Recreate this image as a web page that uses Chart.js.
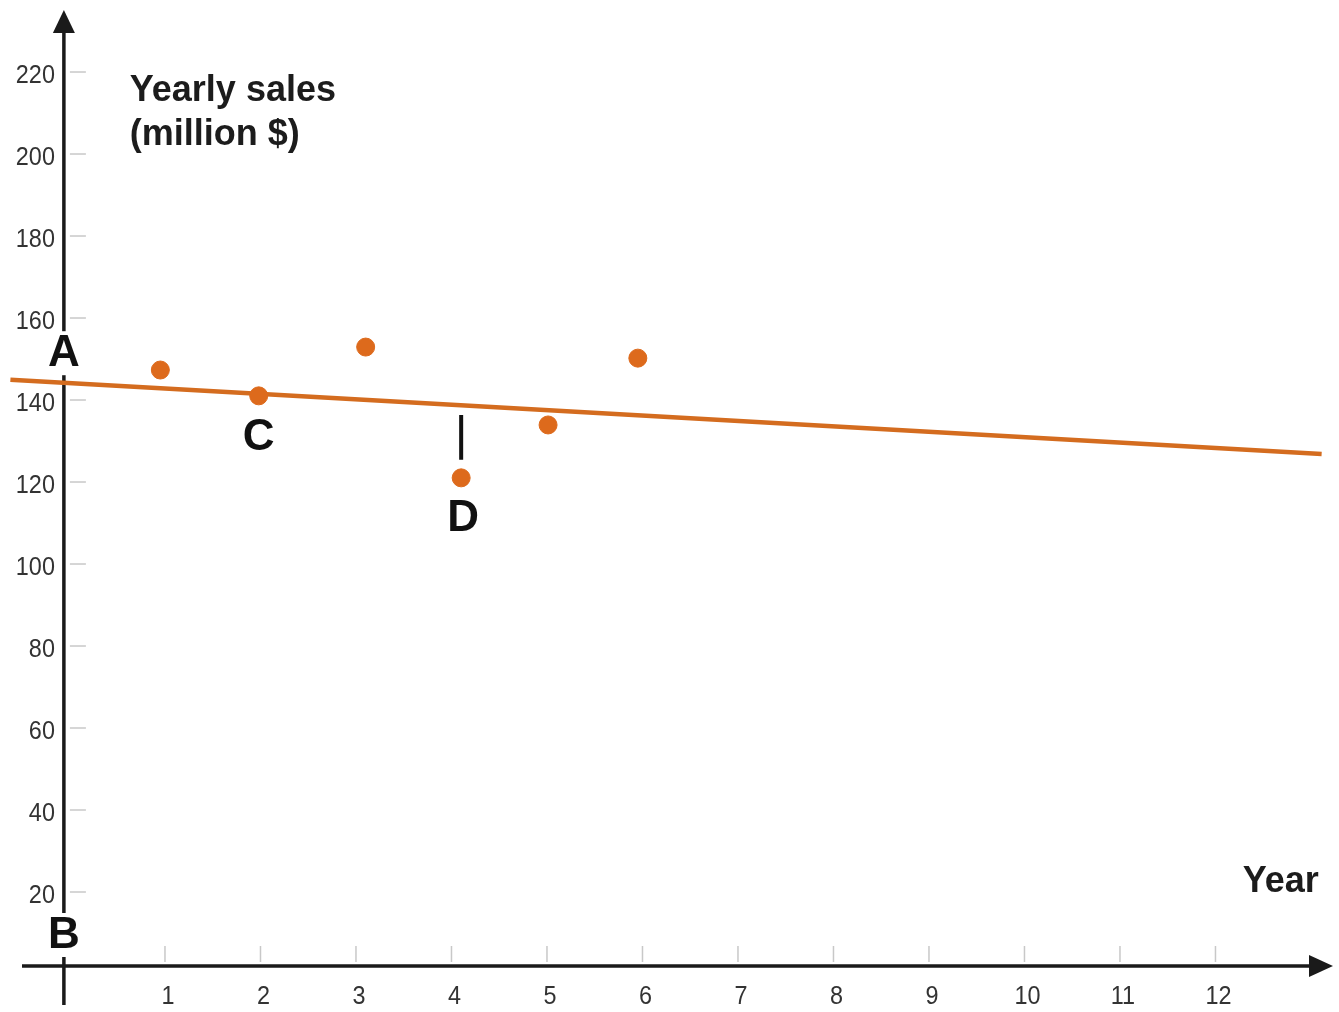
<!DOCTYPE html>
<html lang="en">
  <head>
    <meta charset="UTF-8" />
    <title>Yearly sales</title>
    <script src="https://cdn.jsdelivr.net/npm/chart.js@4.4.1/dist/chart.umd.min.js"></script>
    <style>
      html, body { margin: 0; padding: 0; background: #fff; }
      #wrap { width: 1339px; height: 1012px; position: relative; }
    </style>
  </head>
  <body>
    <div id="wrap"><canvas id="salesChart"></canvas></div>
    <script>
      // data
      var years = [0.92, 1.95, 3.07, 4.07, 4.98, 5.92];
      var sales = [147.8, 141.5, 153.4, 121.5, 134.4, 150.7];
      var trendYears = [-0.65, 13.08];
      var trendSales = [145.4, 127.3];
      var markYears = [4.07, 4.07]; // the short black bar above D
      var markSales = [136.8, 125.9];
      var xTicks = [1, 2, 3, 4, 5, 6, 7, 8, 9, 10, 11, 12];
      var yTicks = [20, 40, 60, 80, 100, 120, 140, 160, 180, 200, 220];

      // letters and titles (data coords)
      var notes = [
        { text: "A", x: -0.09, y: 151.9, clear: true },
        { text: "B", x: -0.09, y: 10.0, clear: true },
        { text: "C", x: 1.95, y: 131.5 },
        { text: "D", x: 4.09, y: 111.7 },
      ];

      var orange = "#dd6a1c";
      var lineOrange = "#d46c1f";
      var axisColor = "#1a1a1a";
      var crossX = -0.09; // where the y axis sits
      var crossY = 2.44; // where the x axis sits

      function pts(xs, ys) {
        return xs.map(function (x, i) { return { x: x, y: ys[i] }; });
      }

      function narrowText(ctx, text, x, y, sx) {
        ctx.save();
        ctx.translate(x, y);
        ctx.scale(sx, 1);
        ctx.fillText(text, 0, 0);
        ctx.restore();
      }

      var axesPlugin = {
        id: "handAxes",
        beforeDatasetsDraw: function (chart) {
          var ctx = chart.ctx;
          var xs = chart.scales.x, ys = chart.scales.y;
          var ax = xs.getPixelForValue(crossX);
          var ay = ys.getPixelForValue(crossY);
          ctx.save();
          // tick marks
          ctx.strokeStyle = "#c8c8c8";
          ctx.lineWidth = 1.5;
          yTicks.forEach(function (v) {
            var py = ys.getPixelForValue(v);
            ctx.beginPath();
            ctx.moveTo(ax + 6, py - 2);
            ctx.lineTo(ax + 22, py - 2);
            ctx.stroke();
          });
          xTicks.forEach(function (v) {
            var px = xs.getPixelForValue(v) - 3;
            ctx.beginPath();
            ctx.moveTo(px, ay - 4);
            ctx.lineTo(px, ay - 20);
            ctx.stroke();
          });
          // axis lines
          ctx.strokeStyle = axisColor;
          ctx.fillStyle = axisColor;
          ctx.lineWidth = 3.5;
          ctx.beginPath();
          ctx.moveTo(ax, 1005);
          ctx.lineTo(ax, 30);
          ctx.stroke();
          ctx.beginPath();
          ctx.moveTo(22, ay);
          ctx.lineTo(1312, ay);
          ctx.stroke();
          // arrow heads
          ctx.beginPath();
          ctx.moveTo(ax, 10);
          ctx.lineTo(ax - 11, 33);
          ctx.lineTo(ax + 11, 33);
          ctx.closePath();
          ctx.fill();
          ctx.beginPath();
          ctx.moveTo(1333, ay);
          ctx.lineTo(1309, ay - 11);
          ctx.lineTo(1309, ay + 11);
          ctx.closePath();
          ctx.fill();
          // tick labels
          ctx.fillStyle = "#333";
          ctx.font = "26px 'Liberation Sans', Arial, sans-serif";
          ctx.textBaseline = "middle";
          ctx.textAlign = "right";
          yTicks.forEach(function (v) {
            narrowText(ctx, String(v), ax - 9, ys.getPixelForValue(v) + 2, 0.9);
          });
          ctx.textAlign = "center";
          xTicks.forEach(function (v) {
            narrowText(ctx, String(v), xs.getPixelForValue(v), ay + 31, 0.9);
          });
          ctx.restore();
        },
        afterDatasetsDraw: function (chart) {
          var ctx = chart.ctx;
          var xs = chart.scales.x, ys = chart.scales.y;
          ctx.save();
          ctx.textAlign = "center";
          ctx.textBaseline = "middle";
          notes.forEach(function (n) {
            var px = xs.getPixelForValue(n.x), py = ys.getPixelForValue(n.y);
            if (n.clear) {
              ctx.fillStyle = "#fff";
              ctx.fillRect(px - 18, py - 22, 36, 44);
            }
            ctx.fillStyle = "#111";
            ctx.font = "bold 44px 'Liberation Sans', Arial, sans-serif";
            ctx.fillText(n.text, px, py + 1);
          });
          // titles
          ctx.fillStyle = "#1c1c1c";
          ctx.font = "bold 36px 'Liberation Sans', Arial, sans-serif";
          ctx.textAlign = "left";
          ctx.fillText("Yearly sales", xs.getPixelForValue(0.6), ys.getPixelForValue(216.6) + 3);
          ctx.fillText("(million $)", xs.getPixelForValue(0.6), ys.getPixelForValue(205.9) + 3);
          ctx.textAlign = "right";
          ctx.fillText("Year", xs.getPixelForValue(13.05), ys.getPixelForValue(23.4) + 2);
          ctx.restore();
        },
      };

      var ctxEl = document.getElementById("salesChart").getContext("2d");
      var salesChart = new Chart(ctxEl, {
        type: "scatter",
        data: {
          datasets: [
            {
              label: "trend",
              type: "line",
              data: pts(trendYears, trendSales),
              borderColor: lineOrange,
              borderWidth: 4.5,
              pointRadius: 0,
              order: 2,
            },
            {
              label: "mark",
              type: "line",
              data: pts(markYears, markSales),
              borderColor: "#111",
              borderWidth: 4,
              pointRadius: 0,
              order: 3,
            },
            {
              label: "sales",
              data: pts(years, sales),
              backgroundColor: orange,
              borderColor: orange,
              pointRadius: 9,
              order: 1,
            },
          ],
        },
        options: {
          responsive: true,
          maintainAspectRatio: false,
          animation: false,
          layout: { padding: 0, autoPadding: false },
          plugins: { legend: { display: false }, tooltip: { enabled: false } },
          scales: {
            x: { type: "linear", min: -0.759, max: 13.262, display: false },
            y: { type: "linear", min: -8.78, max: 238.05, display: false },
          },
        },
        plugins: [axesPlugin],
      });
    </script>
  </body>
</html>
